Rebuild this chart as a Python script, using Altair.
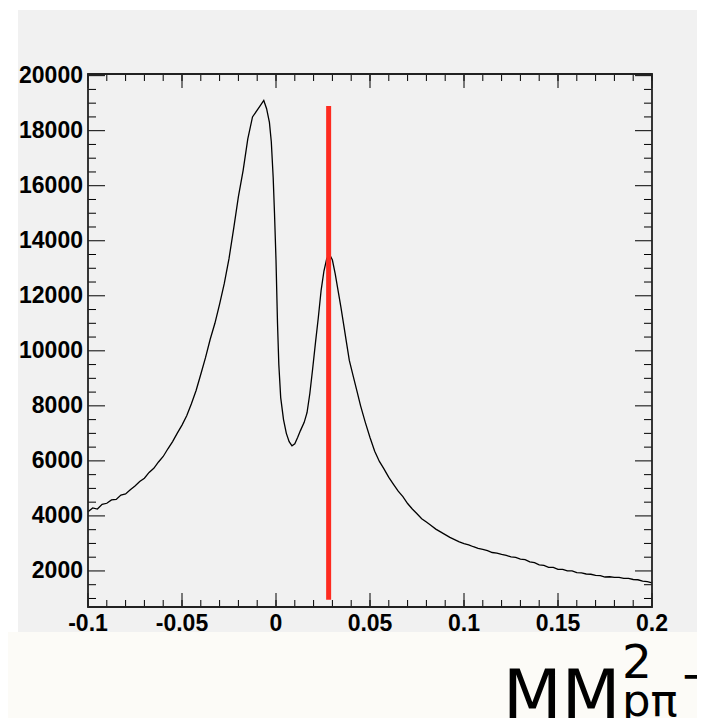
import altair as alt
import pandas as pd

# ---- data ----
mm2 = [-0.1000, -0.0975, -0.0950, -0.0925, -0.0900, -0.0875, -0.0850, -0.0825, -0.0800, -0.0775,
       -0.0750, -0.0725, -0.0700, -0.0675, -0.0650, -0.0625, -0.0600, -0.0575, -0.0550, -0.0525,
       -0.0500, -0.0475, -0.0450, -0.0425, -0.0400, -0.0375, -0.0350, -0.0325, -0.0300, -0.0275,
       -0.0250, -0.0225, -0.0200, -0.0175, -0.0150, -0.0125, -0.0100, -0.0080, -0.0065, -0.0050,
       -0.0035, -0.0025, -0.0015, -0.0008, 0.0000, 0.0008, 0.0015, 0.0025, 0.0040, 0.0055,
       0.0070, 0.0085, 0.0100, 0.0115, 0.0130, 0.0150, 0.0165, 0.0180, 0.0195, 0.0210,
       0.0225, 0.0240, 0.0255, 0.0270, 0.0285, 0.0300, 0.0315, 0.0330, 0.0345, 0.0360,
       0.0375, 0.0390, 0.0410, 0.0430, 0.0450, 0.0475, 0.0500, 0.0525, 0.0550, 0.0575,
       0.0600, 0.0625, 0.0650, 0.0675, 0.0700, 0.0725, 0.0750, 0.0775, 0.0800, 0.0825,
       0.0850, 0.0875, 0.0900, 0.0925, 0.0950, 0.0975, 0.1000, 0.1025, 0.1050, 0.1075,
       0.1100, 0.1125, 0.1150, 0.1175, 0.1200, 0.1225, 0.1250, 0.1275, 0.1300, 0.1325,
       0.1350, 0.1375, 0.1400, 0.1425, 0.1450, 0.1475, 0.1500, 0.1525, 0.1550, 0.1575,
       0.1600, 0.1625, 0.1650, 0.1675, 0.1700, 0.1725, 0.1750, 0.1775, 0.1800, 0.1825,
       0.1850, 0.1875, 0.1900, 0.1925, 0.1950, 0.1975, 0.2000]
counts = [4150, 4290, 4250, 4420, 4460, 4580, 4600, 4760, 4800, 4950,
          5090, 5250, 5370, 5580, 5730, 5960, 6160, 6440, 6700, 7010,
          7300, 7640, 8080, 8560, 9150, 9750, 10420, 11000, 11700, 12450,
          13350, 14450, 15600, 16550, 17700, 18500, 18750, 18950, 19100, 18800,
          18300, 17600, 16300, 15000, 13300, 11000, 9500, 8300, 7500, 7000,
          6700, 6550, 6620, 6850, 7100, 7400, 7750, 8450, 9350, 10300,
          11200, 12200, 12900, 13350, 13500, 13300, 12800, 12200, 11600, 10950,
          10300, 9650, 9100, 8550, 8000, 7400, 6850, 6350, 5980, 5700,
          5400, 5150, 4900, 4700, 4450, 4250, 4080, 3900, 3780, 3650,
          3520, 3420, 3320, 3220, 3140, 3060, 2990, 2950, 2880, 2820,
          2780, 2740, 2670, 2650, 2600, 2570, 2510, 2490, 2430, 2410,
          2330, 2300, 2220, 2200, 2130, 2130, 2060, 2060, 2000, 2000,
          1940, 1930, 1890, 1880, 1840, 1830, 1780, 1790, 1770, 1770,
          1730, 1730, 1690, 1680, 1630, 1610, 1570]

cut_x = [0.028]
cut_lo = [950]
cut_hi = [18900]

x_ticks = [-0.1, -0.05, 0.0, 0.05, 0.1, 0.15, 0.2]
x_texts = ["-0.1", "-0.05", "0", "0.05", "0.1", "0.15", "0.2"]
x_minor = [round(-0.1 + 0.01 * i, 2) for i in range(31)]
y_ticks = [2000, 4000, 6000, 8000, 10000, 12000, 14000, 16000, 18000, 20000]
y_texts = ["2000", "4000", "6000", "8000", "10000", "12000", "14000", "16000", "18000", "20000"]
y_minor = [1000 + 500 * i for i in range(39)]

# ---- layout ----
W, H = 564, 533
PAD = {"left": 80, "top": 66, "right": 45, "bottom": 111}
RIGHT = W + PAD["right"]

xs = alt.Scale(domain=[-0.1, 0.2], nice=False, zero=False)
ys = alt.Scale(domain=[690, 20060], nice=False, zero=False)

one = pd.DataFrame({"a": [0]})
hist = pd.DataFrame({"x": mm2, "n": counts})
cut = pd.DataFrame({"x": cut_x, "lo": cut_lo, "hi": cut_hi})
xmaj = pd.DataFrame({"v": x_ticks, "t": x_texts})
xmin = pd.DataFrame({"v": x_minor})
ymaj = pd.DataFrame({"v": y_ticks, "t": y_texts})
ymin = pd.DataFrame({"v": [v for v in y_minor if v not in y_ticks]})

grey_bg = alt.Chart(one).mark_rect(color="#f1f1f1").encode(
    x=alt.value(-70), x2=alt.value(RIGHT), y=alt.value(-64), y2=alt.value(558))
cream_bg = alt.Chart(one).mark_rect(color="#fcfbf7").encode(
    x=alt.value(-80), x2=alt.value(RIGHT), y=alt.value(558), y2=alt.value(644))

line = alt.Chart(hist).mark_line(color="black", strokeWidth=1.3).encode(
    x=alt.X("x:Q", scale=xs, axis=None),
    y=alt.Y("n:Q", scale=ys, axis=None),
)

red = alt.Chart(cut).mark_rule(color="#fe2b20", strokeWidth=5).encode(
    x=alt.X("x:Q", scale=xs, axis=None),
    y=alt.Y("lo:Q", scale=ys, axis=None), y2="hi:Q")

def xticks(df, L):
    b = alt.Chart(df).mark_rule(color="black", strokeWidth=1).encode(
        x=alt.X("v:Q", scale=xs, axis=None), y=alt.value(H), y2=alt.value(H - L))
    t = alt.Chart(df).mark_rule(color="black", strokeWidth=1).encode(
        x=alt.X("v:Q", scale=xs, axis=None), y=alt.value(0), y2=alt.value(L))
    return [b, t]

def yticks(df, L):
    l = alt.Chart(df).mark_rule(color="black", strokeWidth=1).encode(
        y=alt.Y("v:Q", scale=ys, axis=None), x=alt.value(0), x2=alt.value(L))
    r = alt.Chart(df).mark_rule(color="black", strokeWidth=1).encode(
        y=alt.Y("v:Q", scale=ys, axis=None), x=alt.value(W), x2=alt.value(W - L))
    return [l, r]

lab_font = dict(font="Liberation Sans", fontWeight="bold", fontSize=23, color="black")
xlab = alt.Chart(xmaj).mark_text(align="center", baseline="top", **lab_font).encode(
    x=alt.X("v:Q", scale=xs, axis=None), y=alt.value(H + 6), text="t:N")
ylab = alt.Chart(ymaj).mark_text(align="right", baseline="middle", **lab_font).encode(
    y=alt.Y("v:Q", scale=ys, axis=None), x=alt.value(-5), text="t:N")

frame = alt.Chart(one).mark_rect(fill=None, stroke="#222222", strokeWidth=1.8).encode(
    x=alt.value(0), x2=alt.value(W), y=alt.value(0), y2=alt.value(H))

def txt(s, x, y, size):
    return alt.Chart(one).mark_text(text=s, font="DejaVu Sans", fontSize=size,
                                    align="left", baseline="alphabetic",
                                    color="black").encode(x=alt.value(x), y=alt.value(y))

title_parts = [
    txt("MM", 415, 644, 68),
    txt("2", 534, 604, 47),
    txt("p\u03c0", 534, 642, 45),
    txt("\u2212", 592, 617, 45),
]

layers = [grey_bg, cream_bg] + xticks(xmaj, 14) + xticks(xmin, 7) + yticks(ymaj, 17) + \
    yticks(ymin, 8) + [line, red, frame, xlab, ylab] + title_parts

chart = alt.layer(*layers).properties(
    width=W, height=H,
    autosize=alt.AutoSizeParams(type="none"),
    padding=PAD,
    background="white",
).configure_view(stroke=None)

chart.save("out.html", embed_options={"renderer": "svg", "actions": False})
